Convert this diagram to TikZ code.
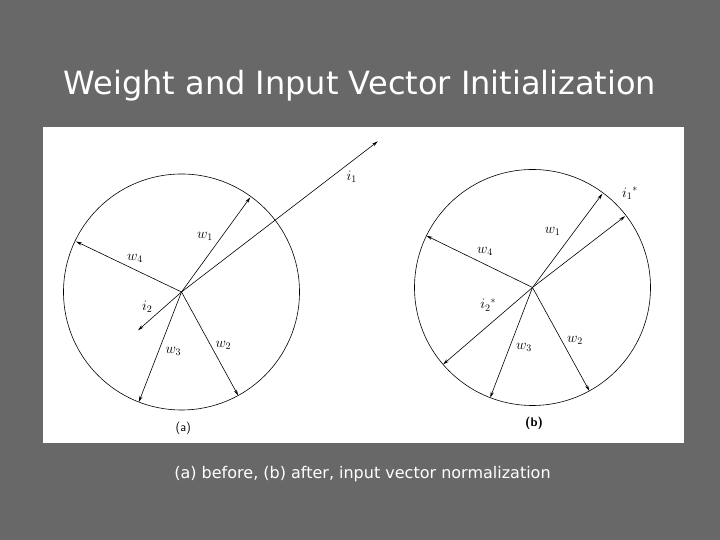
\documentclass[tikz,border=0pt]{standalone}
\usepackage{fontspec}
\usepackage{amsmath}
\usepackage{tikz}
\usetikzlibrary{arrows.meta,positioning}
\newfontfamily\slidefont{DejaVu Sans}
\definecolor{slidegray}{RGB}{104,104,104}

\begin{document}
\begin{tikzpicture}[
  x = 1pt, y = 1pt,
  > = {Stealth[length=6pt,width=3.2pt]},
  vec/.style = {->, line width=0.6pt},
  rim/.style = {draw, line width=0.6pt},
  lbl/.style = {inner sep=0pt, font=\fontsize{14}{16}\selectfont},
  tag/.style = {inner sep=0pt, font=\fontsize{12.5}{15}\selectfont\sffamily},
  title/.style = {anchor=base, text=white, inner sep=0pt,
                  font=\slidefont\fontsize{32}{38}\selectfont},
  caption/.style = {anchor=base, text=white, inner sep=0pt,
                    font=\slidefont\fontsize{16}{19}\selectfont}
]
% slide background
\fill[slidegray] (0,0) rectangle (720,540);
\useasboundingbox (0,0) rectangle (720,540);

\node[title] (head) at (360,445.7) {Weight and Input Vector Initialization};

% white panel
\fill[white] (42.5,97) rectangle (684,413);

% panel (a): before
\coordinate (ca) at (181.5,248);
\draw[rim] (ca) circle (118);
\path (ca) ++(54:117)     coordinate (w1a);
\path (ca) ++(-61.3:118)  coordinate (w2a);
\path (ca) ++(-111.2:118) coordinate (w3a);
\path (ca) ++(154.4:117)  coordinate (w4a);
\path (ca) ++(37.5:247.5) coordinate (i1a);
\path (ca) ++(-138.6:58)  coordinate (i2a);

\draw[vec] (ca) -- (w1a);
\draw[vec] (ca) -- (w2a);
\draw[vec] (ca) -- (w3a);
\draw[vec] (ca) -- (w4a);
\draw[vec] (ca) -- (i1a);
\draw[vec] (ca) -- (i2a);

\node[lbl] (lw1a) at (205,303.3) {$w_1$};
\node[lbl] (lw2a) at (223.3,195) {$w_2$};
\node[lbl] (lw3a) at (173.3,188.3) {$w_3$};
\node[lbl] (lw4a) at (135,281.7) {$w_4$};
\node[lbl] (li1a) at (351.7,363.3) {$i_1$};
\node[lbl] (li2a) at (147.3,233.3) {$i_2$};
\node[tag] (taga) at (183.3,111.7) {(a)};

% panel (b): after
\coordinate (cb) at (532.5,252.5);
\draw[rim] (cb) circle (118);
\path (cb) ++(53.3:117)  coordinate (w1b);
\path (cb) ++(-61.2:118) coordinate (w2b);
\path (cb) ++(-111:118)  coordinate (w3b);
\path (cb) ++(154:118)   coordinate (w4b);
\path (cb) ++(37.6:117)  coordinate (i1b);
\path (cb) ++(-139.3:118) coordinate (i2b);

\draw[vec] (cb) -- (w1b);
\draw[vec] (cb) -- (w2b);
\draw[vec] (cb) -- (w3b);
\draw[vec] (cb) -- (w4b);
\draw[vec] (cb) -- (i1b);
\draw[vec] (cb) -- (i2b);

\node[lbl] (lw1b) at (552.7,308.3) {$w_1$};
\node[lbl] (lw2b) at (575,200) {$w_2$};
\node[lbl] (lw3b) at (524,192.3) {$w_3$};
\node[lbl] (lw4b) at (485,288.3) {$w_4$};
\node[lbl] (li1b) at (630,346.7) {$i_1{}^{*}$};
\node[lbl] (li2b) at (488.3,235) {$i_2{}^{*}$};
\node[tag, font=\fontsize{12.5}{15}\selectfont\sffamily\bfseries] (tagb) at (534,116.7) {(b)};

% caption
\node[caption] (cap) at (362.5,61.5) {(a) before, (b) after, input vector normalization};
\end{tikzpicture}
\end{document}
